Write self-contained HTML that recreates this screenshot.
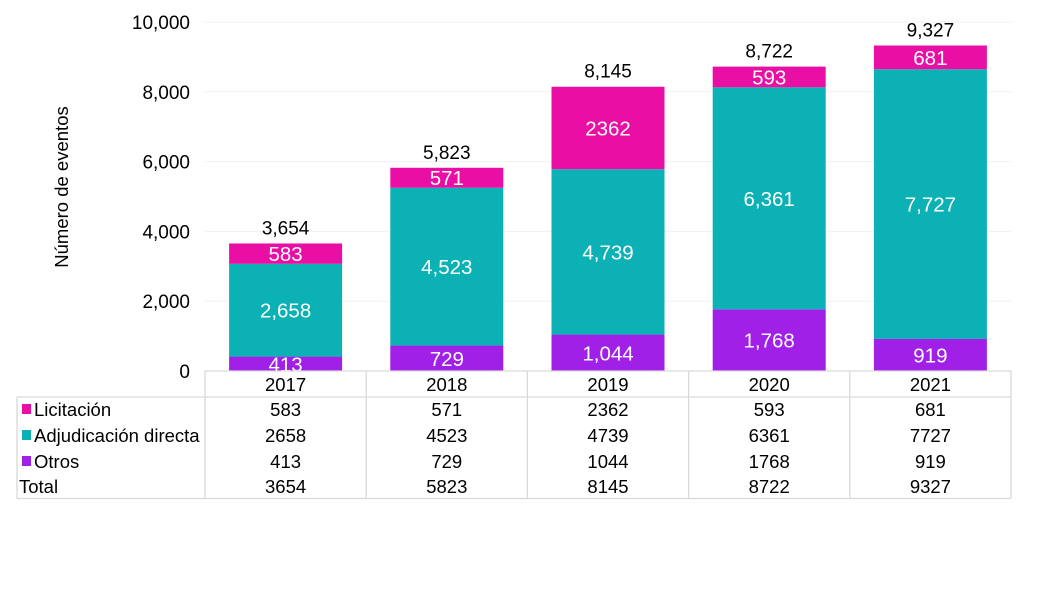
<!DOCTYPE html>
<html><head><meta charset="utf-8"><style>
body{margin:0;background:#fff;}
svg text{font-family:"Liberation Sans",Arial,sans-serif;}
</style></head><body>
<svg id="chart" width="1054" height="603" viewBox="0 0 1054 603" xmlns="http://www.w3.org/2000/svg">
<rect width="1054" height="603" fill="#fff"/>
<g id="grid"></g><g id="bars"></g><g id="table"></g>
<text x="68" y="187" font-size="18.5" text-anchor="middle" transform="rotate(-90 68 187)">Número de eventos</text>
</svg>
<script>
const years=["2017","2018","2019","2020","2021"];
const otros=[413,729,1044,1768,919];
const adjud=[2658,4523,4739,6361,7727];
const licit=[583,571,2362,593,681];
const yTicks=[0,2000,4000,6000,8000,10000];
const adjLabels=["2,658","4,523","4,739","6,361","7,727"];
const otrosLabels=["413","729","1,044","1,768","919"];
const licLabels=["583","571","2362","593","681"];
const NS="http://www.w3.org/2000/svg";
const y0=371,yTop=22,yMax=10000;
const y=v=>y0-(v/yMax)*(y0-yTop);
const colL=205,colW=161.2;
const cx=i=>colL+colW*(i+0.5);
const bw=113;
function mk(tag,attrs,parent,txt){const e=document.createElementNS(NS,tag);for(const k in attrs)e.setAttribute(k,attrs[k]);if(txt!==undefined)e.textContent=txt;parent.appendChild(e);return e;}
const fmt=v=>v.toLocaleString("en-US");
const grid=document.getElementById('grid');
yTicks.forEach(t=>{
  if(t>0){const l=mk('line',{x1:205,x2:1011,y1:y(t),y2:y(t),stroke:'#f0f0f0','stroke-width':1},grid);
  
  }
  const tx=mk('text',{x:190,y:y(t)+7,'font-size':19,'text-anchor':'end'},grid,fmt(t));
  
  
});
const bars=document.getElementById('bars');
const series=[{d:otros,c:'#A020E8',lab:otrosLabels,n:'otros'},{d:adjud,c:'#0BB1B4',lab:adjLabels,n:'adjudicacion'},{d:licit,c:'#E90FA5',lab:licLabels,n:'licitacion'}];
years.forEach((yr,i)=>{
  let base=0;
  series.forEach(s=>{
    const v=s.d[i];
    const r=mk('rect',{x:cx(i)-bw/2,y:y(base+v),width:bw,height:y(base)-y(base+v),fill:s.c},bars);
    
    
    const t=mk('text',{x:cx(i),y:(y(base)+y(base+v))/2+7.5,'font-size':20.5,fill:'#fff','text-anchor':'middle'},bars,s.lab[i]);
    
    
    base+=v;
  });
  const tt=mk('text',{x:cx(i),y:y(base)-9,'font-size':19,'text-anchor':'middle'},bars,fmt(base));
  
  
});
const tb=document.getElementById('table');
const ln=(x1,y1,x2,y2)=>{const l=mk('line',{x1,y1,x2,y2,stroke:'#d9d9d9','stroke-width':1.3},tb);};
ln(205,371,1011,371);ln(17,397,1011,397);ln(17,498.5,1011,498.5);ln(17,397,17,498.5);
for(let i=0;i<=5;i++)ln(colL+colW*i,371,colL+colW*i,498.5);
const rowsY=[416,442,468,493];
const rowNames=["Licitación","Adjudicación directa","Otros","Total"];
const rowCols=['#E90FA5','#0BB1B4','#A020E8',null];
const totals=years.map((_,i)=>otros[i]+adjud[i]+licit[i]);
const rowData=[licit,adjud,otros,totals];
years.forEach((yr,i)=>{const t=mk('text',{x:cx(i),y:391,'font-size':18.5,'text-anchor':'middle'},tb,yr);
  
  });
rowNames.forEach((n,r)=>{
  let x=19;
  if(rowCols[r]){const k=mk('rect',{x:22,y:rowsY[r]-12,width:9,height:10,fill:rowCols[r]},tb);
    
    x=34;}
  const t=mk('text',{x:x,y:rowsY[r],'font-size':18.5},tb,n);
  
  
  rowData[r].forEach((v,i)=>{const c=mk('text',{x:cx(i),y:rowsY[r],'font-size':18.5,'text-anchor':'middle'},tb,String(v));
    
    });
});
</script>
</body></html>
